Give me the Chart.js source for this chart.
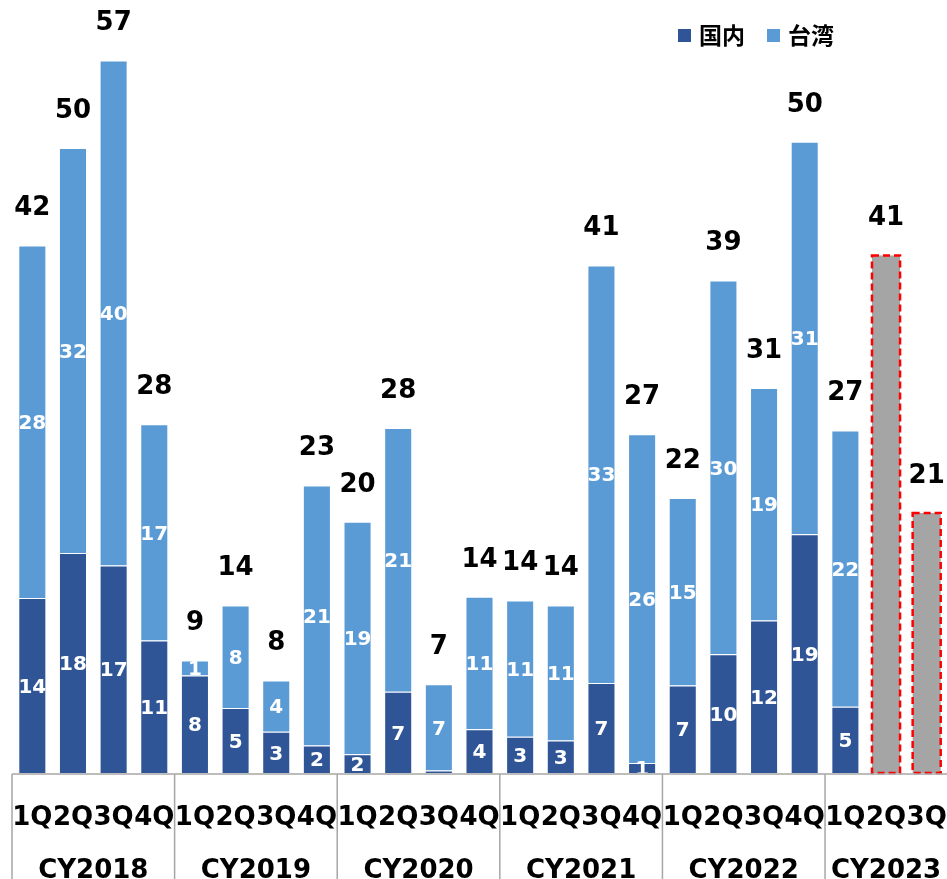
<!DOCTYPE html>
<html lang="ja">
<head>
<meta charset="UTF-8">
<title>国内 / 台湾</title>
<script src="https://cdn.jsdelivr.net/npm/chart.js"></script>
<style>
    body { margin: 0; background: #fff; }
    .wrap { position: relative; width: 947px; height: 879px; }
    .legenda { position: absolute; left: 678px; top: 17px; font: bold 23px "Noto Sans CJK JP", sans-serif; color: #000; }
    .legenda span.box { display: inline-block; width: 13px; height: 13px; margin-right: 8px; vertical-align: 2px; }
    .legenda span.item { margin-right: 22px; }
</style>
</head>
<body>
<div class="wrap">
    <canvas id="grafico"></canvas>
    <div class="legenda">
        <span class="item"><span class="box" style="background:#2F5597"></span>国内</span><span><span class="box" style="background:#5B9BD5"></span>台湾</span>
    </div>
</div>

<script>
    // dados
    const trimestres = ['1Q', '2Q', '3Q', '4Q', '1Q', '2Q', '3Q', '4Q', '1Q', '2Q', '3Q', '4Q',
        '1Q', '2Q', '3Q', '4Q', '1Q', '2Q', '3Q', '4Q', '1Q', '2Q', '3Q'];
    const anos = ['CY2018', 'CY2019', 'CY2020', 'CY2021', 'CY2022', 'CY2023'];
    const trimestresPorAno = [4, 4, 4, 4, 4, 3];
    const domestico = [14, 17.6, 16.6, 10.6, 7.8, 5.2, 3.3, 2.2, 1.5, 6.5, 0.2, 3.5,
        2.9, 2.6, 7.2, 0.8, 7.0, 9.5, 12.2, 19.1, 5.3, null, null];
    const taiwan = [28.2, 32.4, 40.4, 17.3, 1.2, 8.2, 4.1, 20.8, 18.6, 21.1, 6.9, 10.6,
        10.9, 10.8, 33.4, 26.3, 15.0, 29.9, 18.6, 31.4, 22.1, null, null];
    const previsao = [null, null, null, null, null, null, null, null, null, null, null, null,
        null, null, null, null, null, null, null, null, null, 41.4, 20.8];
    const totais = [42, 50, 57, 28, 9, 14, 8, 23, 20, 28, 7, 14, 14, 14, 41, 27, 22, 39, 31, 50, 27, 41, 21];

    const fonteNum = '"DejaVu Sans", Verdana, sans-serif';

    const pluginRotulos = {
        id: 'rotulos',
        afterDatasetsDraw(chart) {
            const ctx = chart.ctx;
            ctx.save();
            ctx.textAlign = 'center';
            ctx.textBaseline = 'middle';

            // borda tracejada nas barras cinzas
            const metaPrev = chart.getDatasetMeta(2);
            ctx.strokeStyle = '#FF0000';
            ctx.lineWidth = 2.5;
            ctx.setLineDash([7, 4]);
            metaPrev.data.forEach((el, i) => {
                if (previsao[i] == null) return;
                ctx.strokeRect(el.x - el.width / 2, el.y, el.width, el.base - el.y);
            });
            ctx.setLineDash([]);

            // valores dentro das barras
            ctx.fillStyle = '#fff';
            ctx.font = 'bold 20px ' + fonteNum;
            [0, 1].forEach(d => {
                const valores = chart.data.datasets[d].data;
                chart.getDatasetMeta(d).data.forEach((el, i) => {
                    const v = valores[i];
                    if (v == null || v < 0.5) return;
                    ctx.fillText(Math.round(v), el.x, (el.y + el.base) / 2 + 2);
                });
            });

            // totais acima
            ctx.fillStyle = '#000';
            ctx.font = 'bold 26px ' + fonteNum;
            totais.forEach((t, i) => {
                let topo = Infinity, x = 0;
                [0, 1, 2].forEach(d => {
                    if (chart.data.datasets[d].data[i] == null) return;
                    const el = chart.getDatasetMeta(d).data[i];
                    if (el.y < topo) { topo = el.y; x = el.x; }
                });
                ctx.fillText(t, x, topo - 37);
            });
            ctx.restore();
        },
        afterDraw(chart) {
            const ctx = chart.ctx;
            const x = chart.scales.x;
            const area = chart.chartArea;
            ctx.save();
            ctx.strokeStyle = '#A6A6A6';
            ctx.lineWidth = 1.5;
            ctx.beginPath();
            ctx.moveTo(area.left, area.bottom + 1);
            ctx.lineTo(area.right, area.bottom + 1);
            ctx.stroke();

            ctx.fillStyle = '#000';
            ctx.font = 'bold 26px ' + fonteNum;
            ctx.textAlign = 'center';
            ctx.textBaseline = 'middle';
            let inicio = 0;
            const passo = x.getPixelForValue(1) - x.getPixelForValue(0);
            anos.forEach((ano, g) => {
                const fim = inicio + trimestresPorAno[g] - 1;
                const esq = x.getPixelForValue(inicio) - passo / 2;
                ctx.beginPath();
                ctx.moveTo(esq, area.bottom + 1);
                ctx.lineTo(esq, chart.height);
                ctx.stroke();
                const meio = (x.getPixelForValue(inicio) + x.getPixelForValue(fim)) / 2;
                ctx.fillText(ano, meio, area.bottom + 98);
                inicio = fim + 1;
            });
            ctx.restore();
        }
    };

    new Chart(document.getElementById('grafico'), {
        type: 'bar',
        data: {
            labels: trimestres,
            datasets: [
                { label: '国内', data: domestico, backgroundColor: '#2F5597', borderColor: '#fff', borderWidth: 1 },
                { label: '台湾', data: taiwan, backgroundColor: '#5B9BD5', borderColor: '#fff', borderWidth: 1 },
                { label: '予想', data: previsao, backgroundColor: '#A5A5A5', borderWidth: 0 }
            ]
        },
        options: {
            responsive: true,
            maintainAspectRatio: false,
            animation: false,
            datasets: { bar: { categoryPercentage: 1, barPercentage: 0.69 } },
            layout: { padding: { left: 12, right: 0, top: 23, bottom: 0 } },
            plugins: {
                legend: { display: false },
                tooltip: { enabled: false }
            },
            scales: {
                x: {
                    stacked: true,
                    grid: { display: false },
                    border: { display: false },
                    ticks: {
                        color: '#000',
                        font: { family: fonteNum, size: 26, weight: 'bold' },
                        padding: 22,
                        maxRotation: 0,
                        autoSkip: false
                    },
                    afterFit(scale) {
                        scale.height = 106;
                        scale.paddingLeft = 0;
                        scale.paddingRight = 0;
                    }
                },
                y: {
                    stacked: true,
                    display: false,
                    min: 0,
                    max: 60
                }
            }
        },
        plugins: [pluginRotulos]
    });
</script>
</body>
</html>
